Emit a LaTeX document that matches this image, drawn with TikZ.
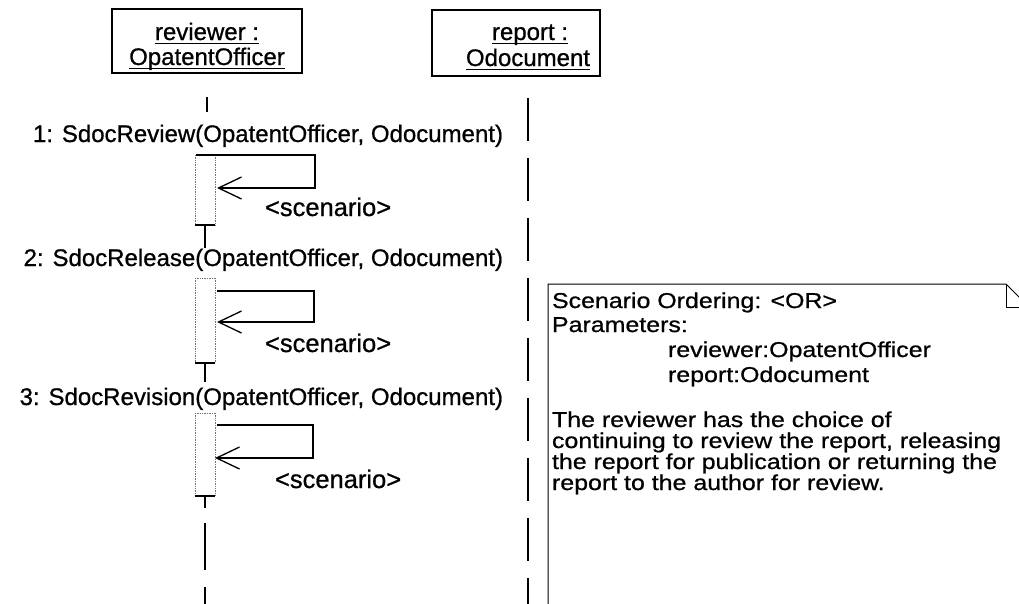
\documentclass[tikz,border=0pt]{standalone}
\usepackage{fontspec}
\setmainfont{Liberation Sans}[FakeBold=0.8]
\newfontfamily\notefont{Liberation Sans}[FakeBold=0.8, FakeStretch=1.16]
\usetikzlibrary{arrows.meta}
\begin{document}
\begin{tikzpicture}[x=1pt,y=-1pt,
  every node/.style={inner sep=0pt, outer sep=0pt},
  txt/.style={font=\fontsize{24}{24}\selectfont},
  scen/.style={font=\fontsize{25.5}{25.5}\selectfont, anchor=base west},
  notetxt/.style={font=\notefont\fontsize{21.5}{21.5}\selectfont, anchor=base west},
  objbox/.style={draw, line width=1.4pt, minimum width=190pt, minimum height=64pt},
  uline/.style={line width=1.3pt},
  lifeline/.style={line width=1.3pt},
  actside/.style={densely dotted, line width=0.7pt, black!55},
  tbar/.style={line width=1.3pt},
  selfmsg/.style={line width=1.3pt, -{Straight Barb[length=23pt,width=22pt]}},
  notebox/.style={line width=1pt}]
\useasboundingbox (0,0) rectangle (1019,603);
\clip (0,0) rectangle (1019,603);

% object boxes
\node[objbox] (rev) at (207,41) {};
\node[objbox, minimum width=168pt, minimum height=66pt] (rep) at (516,43) {};
\node[txt, anchor=base] (revA) at (207,40) {reviewer :};
\node[txt, anchor=base] (revB) at (207,65) {OpatentOfficer};
\node[txt, anchor=base] (repA) at (530,40) {report :};
\node[txt, anchor=base] (repB) at (528,66) {Odocument};
\foreach \n in {revA,revB,repA,repB}
  \draw[uline] ([yshift=-3.5pt]\n.base west) -- ([yshift=-3.5pt]\n.base east);

% message labels
\node[txt, anchor=base east] (m1) at (503,142) {1: SdocReview(OpatentOfficer, Odocument)};
\node[txt, anchor=base east] (m2) at (503,266) {2: SdocRelease(OpatentOfficer, Odocument)};
\node[txt, anchor=base east] (m3) at (503,405) {3: SdocRevision(OpatentOfficer, Odocument)};

% lifeline of reviewer
\draw[lifeline] (207,97) -- (207,112);
\draw[lifeline, dash pattern=on 47pt off 17pt] (205,523) -- (205,640);

% activations: dotted sides, solid bottom bar, short stem
\foreach \t/\b/\s in {155/225/248, 278/363/382, 413/496/508}{
  \draw[actside] (195,\t) -- (195,\b);
  \draw[actside] (215,\t) -- (215,\b);
  \draw[tbar] (195,\b) -- (215,\b);
  \draw[lifeline] (205,\b) -- (205,\s);
}
\draw[actside] (195,278) -- (215,278);
\draw[actside] (195,413) -- (215,413);

% self messages
\draw[selfmsg] (196,155) -- (315,155) -- (315,188) -- (217,188);
\draw[selfmsg] (217,291) -- (314,291) -- (314,322) -- (217,322);
\draw[selfmsg] (217,425) -- (313,425) -- (313,458) -- (215,458);
\node[scen] (s1) at (265,216) {\textless scenario\textgreater};
\node[scen] (s2) at (265,352) {\textless scenario\textgreater};
\node[scen] (s3) at (275,488) {\textless scenario\textgreater};

% lifeline of report
\draw[lifeline, dash pattern=on 43pt off 17pt] (528,98) -- (528,640);

% note
\draw[notebox] (548,640) -- (548,284) -- (1006,284) -- (1032,310);
\draw[notebox] (1006,284) -- (1006,307) -- (1032,307);
\node[notetxt] (n1) at (552,308) {Scenario Ordering: \textless OR\textgreater};
\node[notetxt] (n2) at (552,332) {Parameters:};
\node[notetxt] (n3) at (668,357) {reviewer:OpatentOfficer};
\node[notetxt] (n4) at (668,382) {report:Odocument};
\node[notetxt] (n5) at (552,427) {The reviewer has the choice of};
\node[notetxt] (n6) at (552,448) {continuing to review the report, releasing};
\node[notetxt] (n7) at (552,469) {the report for publication or returning the};
\node[notetxt] (n8) at (552,490) {report to the author for review.};
\end{tikzpicture}
\end{document}
